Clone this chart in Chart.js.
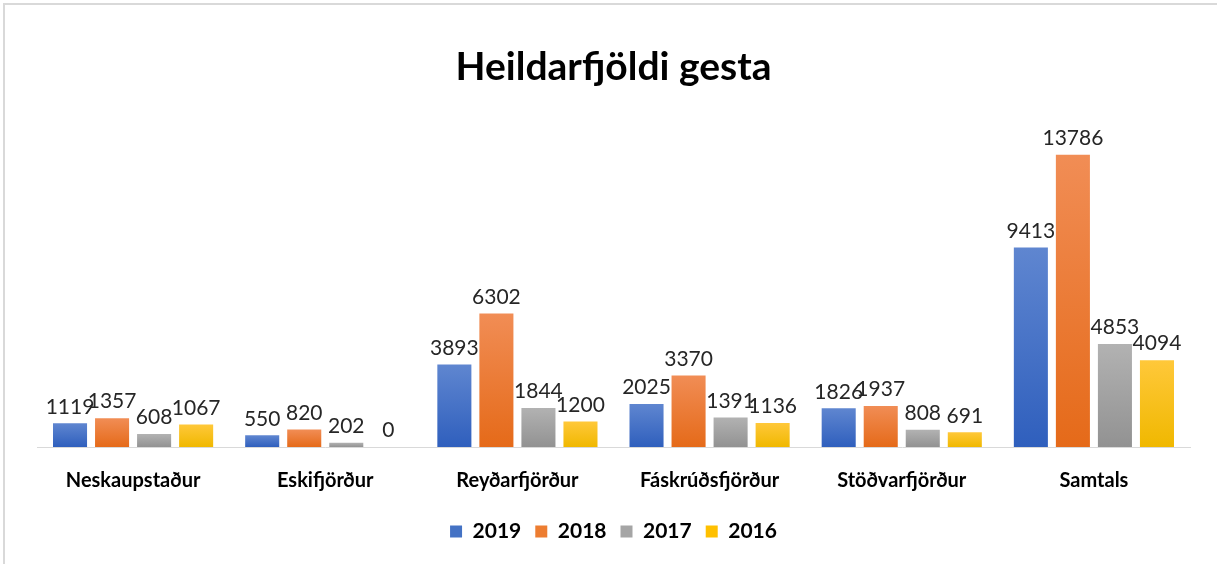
<!DOCTYPE html>
<html>
<head>
<meta charset="utf-8">
<script src="https://cdn.jsdelivr.net/npm/chart.js@4.4.1/dist/chart.umd.min.js"></script>
<style>
  html, body { margin: 0; padding: 0; background: #fff; }
  #wrap { position: relative; width: 1217px; height: 564px; }
  #frame { position: absolute; left: 3px; top: 3px; right: 0; bottom: 0;
           border-left: 2px solid #d9d9d9; border-top: 2px solid #d9d9d9; }
  #myChart { position: absolute; left: 0; top: 0; }
</style>
</head>
<body>
<div id="wrap">
  <div id="frame"></div>
  <canvas id="myChart" width="1217" height="564"></canvas>
</div>
<script>
// data
const places = ['Neskaupstaður', 'Eskifjörður', 'Reyðarfjörður', 'Fáskrúðsfjörður', 'Stöðvarfjörður', 'Samtals'];
const years = ['2019', '2018', '2017', '2016'];
const v2019 = [1119, 550, 3893, 2025, 1826, 9413];
const v2018 = [1357, 820, 6302, 3370, 1937, 13786];
const v2017 = [608, 202, 1844, 1391, 808, 4853];
const v2016 = [1067, 0, 1200, 1136, 691, 4094];

// excel-ish colours: [top, bottom, legend]
const cols = [
    ['#5f86d0', '#2f5fbd', '#4472c4'],
    ['#f18d55', '#e56a19', '#ed7d31'],
    ['#b2b2b2', '#929292', '#a5a5a5'],
    ['#ffc83a', '#f0b800', '#ffc000']
];

function barFill(i){
    return function(context){
        const chart = context.chart;
        const area = chart.chartArea;
        if (!area || context.type !== 'data') return cols[i][2];
        const ys = chart.scales.y;
        const top = ys.getPixelForValue(context.parsed.y);
        const bot = ys.getPixelForValue(0);
        if (!(bot - top > 1)) return cols[i][2];
        const g = chart.ctx.createLinearGradient(0, top, 0, bot);
        g.addColorStop(0, cols[i][0]);
        g.addColorStop(1, cols[i][1]);
        return g;
    };
}

const valueLabels = {
    id: 'valueLabels',
    afterDatasetsDraw(chart){
        const c = chart.ctx;
        c.save();
        c.font = '21px Lato';
        c.fillStyle = '#262626';
        c.textAlign = 'center';
        c.textBaseline = 'bottom';
        chart.data.datasets.forEach(function(ds, i){
            chart.getDatasetMeta(i).data.forEach(function(bar, j){
                c.fillText(String(ds.data[j]), bar.x, bar.y - 6);
            });
        });
        c.restore();
    }
};

const series = [v2019, v2018, v2017, v2016];

const ctx = document.getElementById('myChart').getContext('2d');
const myChart = new Chart(ctx, {
    type: 'bar',
    data: {
        labels: places,
        datasets: series.map(function(d, i){
            return {
                label: years[i],
                data: d,
                backgroundColor: barFill(i),
                borderWidth: 0,
                barPercentage: 0.81,
                categoryPercentage: 0.875
            };
        })
    },
    plugins: [valueLabels],
    options: {
        responsive: false,
        animation: false,
        layout: { padding: { top: 34, left: 37, right: 27, bottom: 12 } },
        plugins: {
            title: {
                display: true,
                text: 'Heildarfjöldi gesta',
                color: '#000',
                font: { family: 'Lato', size: 39, weight: 'bold' },
                padding: { top: 10, bottom: 17 }
            },
            legend: {
                position: 'bottom',
                labels: {
                    color: '#000',
                    font: { family: 'Lato', size: 21, weight: 'bold' },
                    boxWidth: 12,
                    boxHeight: 12,
                    padding: 14,
                    generateLabels: function(chart){
                        return years.map(function(y, i){
                            return { text: y, fillStyle: cols[i][2], strokeStyle: cols[i][2],
                                     lineWidth: 0, datasetIndex: i, fontColor: '#000' };
                        });
                    }
                }
            },
            tooltip: { enabled: false }
        },
        scales: {
            y: {
                display: false,
                min: 0,
                max: 16000
            },
            x: {
                grid: { display: false },
                border: { color: '#d9d9d9', width: 1 },
                ticks: {
                    color: '#000',
                    padding: 14,
                    font: { family: 'Lato', size: 20, weight: 'bold' }
                }
            }
        }
    }
});
</script>
</body>
</html>
